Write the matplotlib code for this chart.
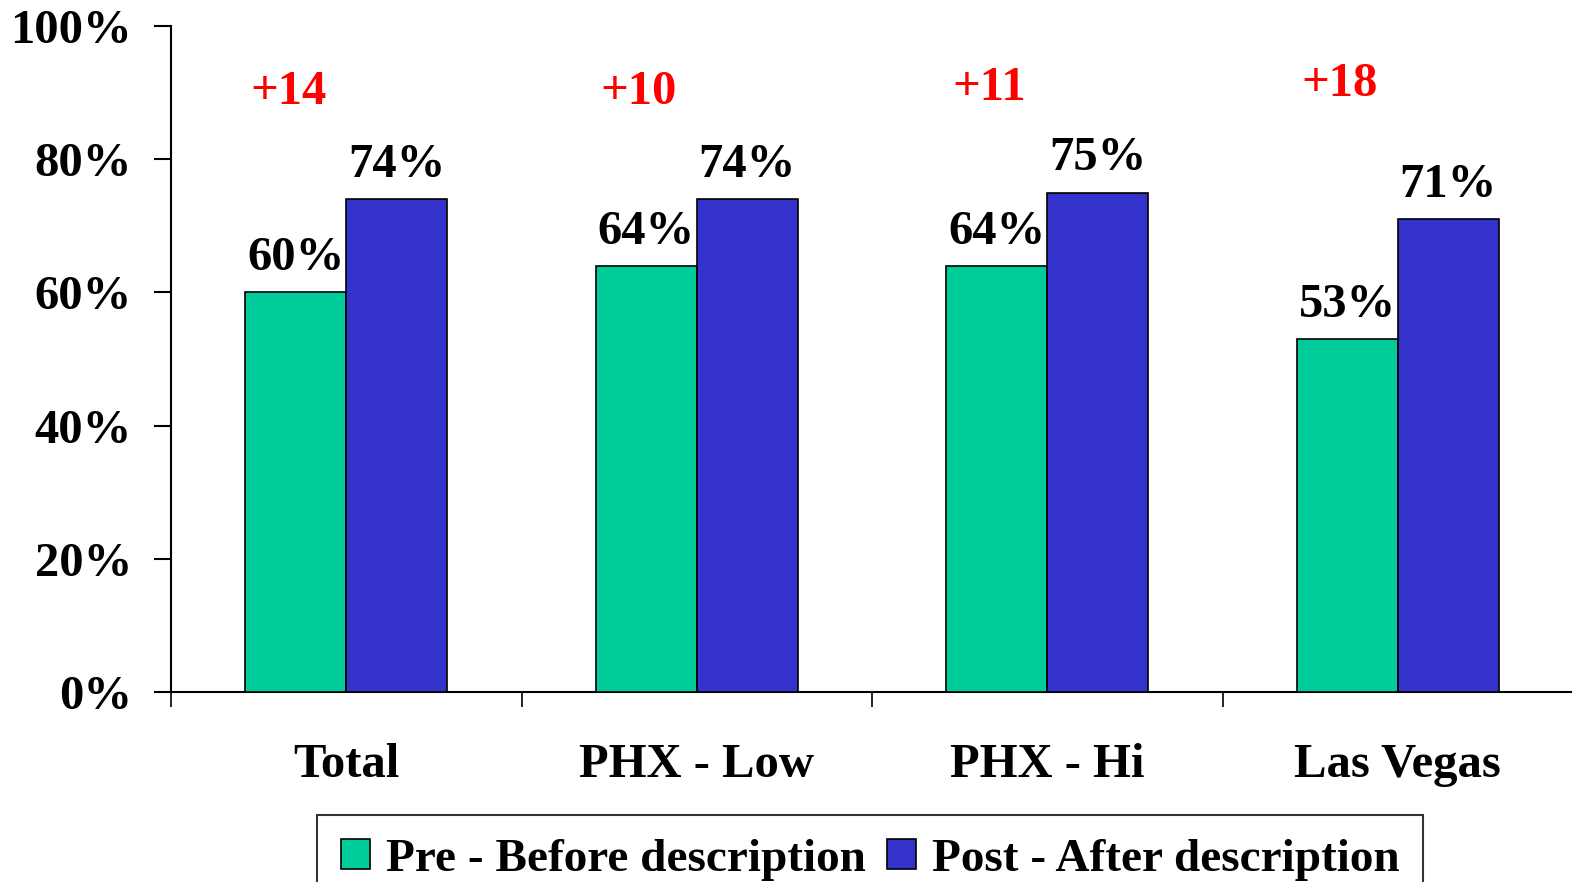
import matplotlib
matplotlib.use("Agg")
import matplotlib.pyplot as plt
import numpy as np
from matplotlib.ticker import FixedLocator, PercentFormatter

categories = ["Total", "PHX - Low", "PHX - Hi", "Las Vegas"]
pre_values = [60, 64, 64, 53]
post_values = [74, 74, 75, 71]
diff_labels = ["+14", "+10", "+11", "+18"]
diff_y = [88.3, 88.3, 88.9, 89.5]
series_names = ["Pre - Before description", "Post - After description"]
yticks = [0, 20, 40, 60, 80, 100]

GREEN = "#00CC99"
BLUE = "#3333CC"
FONT = "Liberation Serif"

plt.rcParams["font.family"] = [FONT, "DejaVu Serif"]
plt.rcParams["font.weight"] = "bold"

fig = plt.figure(figsize=(15.72, 8.82), dpi=100)
ax = fig.add_axes([171 / 1572, (882 - 692) / 882, 1402 / 1572, 666 / 882])

x = np.arange(len(categories))
w = 0.288
b1 = ax.bar(x - w / 2, pre_values, w, color=GREEN, edgecolor="black", linewidth=1.2,
            label=series_names[0], zorder=3)
b2 = ax.bar(x + w / 2, post_values, w, color=BLUE, edgecolor="black", linewidth=1.2,
            label=series_names[1], zorder=3)

for xi, v in zip(x - w / 2, pre_values):
    ax.annotate(f"{v}%", (xi, v), xytext=(0, 16), textcoords="offset points",
                ha="center", va="baseline", fontsize=35, fontweight="bold")
for xi, v in zip(x + w / 2, post_values):
    ax.annotate(f"{v}%", (xi, v), xytext=(0, 16), textcoords="offset points",
                ha="center", va="baseline", fontsize=35, fontweight="bold")

for xi, t, yy in zip(x, diff_labels, diff_y):
    ax.text(xi - 0.165, yy, t, ha="center", va="baseline", fontsize=35,
            fontweight="bold", color="#FF0000")

ax.set_xlim(-0.5, len(categories) - 0.5)
ax.set_ylim(0, 100)
ax.yaxis.set_major_locator(FixedLocator(yticks))
ax.yaxis.set_major_formatter(PercentFormatter(decimals=0))
ax.tick_params(axis="y", direction="out", length=12, width=1.5, pad=16, labelsize=35)
for lab in ax.get_yticklabels():
    lab.set_fontweight("bold")

ax.set_xticks(np.arange(len(categories) + 1) - 0.5)
ax.set_xticklabels([])
ax.set_xticks(x, minor=True)
ax.set_xticklabels(categories, minor=True, fontsize=35, fontweight="bold")
ax.tick_params(axis="x", which="major", direction="out", length=11, width=1.2)
ax.tick_params(axis="x", which="minor", length=0, pad=37)

for s in ["top", "right"]:
    ax.spines[s].set_visible(False)
ax.spines["left"].set_linewidth(1.5)
ax.spines["bottom"].set_linewidth(1.5)

leg = fig.legend(handles=[b1, b2], loc="upper center",
                 bbox_to_anchor=(870 / 1572, 1 - 815 / 882), ncol=2,
                 prop={"family": FONT, "weight": "bold", "size": 34},
                 frameon=True, fancybox=False, edgecolor="black",
                 handlelength=0.62, handleheight=0.62, handletextpad=0.33,
                 columnspacing=0.45, borderpad=0.5, borderaxespad=0)
leg.get_frame().set_linewidth(1.5)

fig.savefig("out.png", dpi=100)
